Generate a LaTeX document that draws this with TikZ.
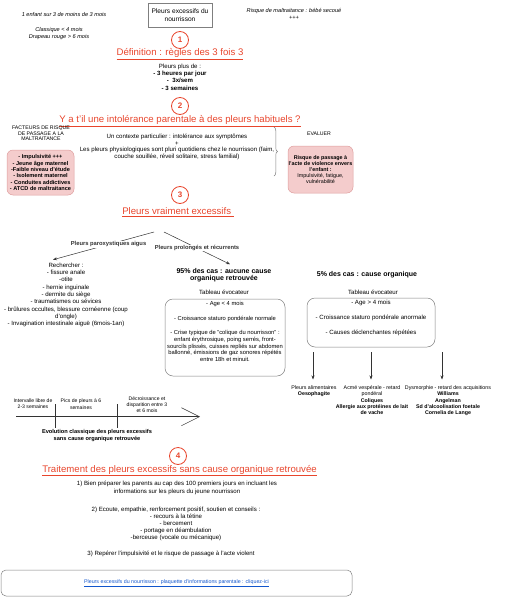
\documentclass[tikz,border=0pt]{standalone}
\usepackage{fontspec}
\setmainfont{Liberation Sans}
\usetikzlibrary{arrows.meta,calc,decorations.pathreplacing}
\definecolor{titlered}{HTML}{E8452C}
\definecolor{pinkfill}{HTML}{F4CCCC}
\definecolor{pinkline}{HTML}{DE9E9E}
\definecolor{boxgray}{HTML}{7F7F7F}
\definecolor{linkblue}{HTML}{1155CC}
\newcommand{\fsz}[2]{\fontsize{#1}{#2}\selectfont}
\begin{document}
\begin{tikzpicture}[x=1pt,y=-1pt,>={Stealth[length=4pt,width=3pt]},line width=0.5pt,
	txt/.style={inner sep=0pt,align=center,font=\fsz{6.1}{6.6}},
	note/.style={inner sep=0pt,align=center,font=\fsz{5.6}{6.7}\itshape},
	small/.style={inner sep=0pt,align=center,font=\fsz{5.2}{5.4}},
	res/.style={inner sep=0pt,align=center,anchor=north,font=\fsz{5.3}{6.3}},
	head/.style={inner sep=0pt,align=center,font=\fsz{7}{7.4}\bfseries},
	title/.style={inner sep=0pt,text=titlered,font=\fsz{9.6}{11}},
	num/.style={circle,draw=titlered,line width=0.8pt,text=titlered,minimum size=17pt,inner sep=0pt,font=\fsz{8}{9}\bfseries},
	riskbox/.style={draw=pinkline,fill=pinkfill,rounded corners=6pt,inner sep=0pt,align=center},
	tabbox/.style={draw=boxgray,rounded corners=8pt,inner sep=0pt}]
	\useasboundingbox (0,0) rectangle (504,600);
	\node[note] (babies) at (64,14) {1 enfant sur 3 de moins de 3 mois};
	\node[note] (ages) at (59,33.5) {Classique < 4 mois\\Drapeau rouge > 6 mois};
	\node[draw=boxgray,minimum width=64pt,minimum height=24pt,inner sep=0pt,align=center,font=\fsz{6.6}{8.5}] (topic) at (180,15) {Pleurs excessifs du\\nourrisson};
	\node[note] (shaken) at (294,14) {Risque de maltraitance : bébé secoué\\+++};
	\node[num] (n1) at (180,40) {1};
	\node[title] (t1) at (180,54) {\underline{Définition : règles des 3 fois 3}};
	\node[txt,font=\fsz{6.1}{7.4}] (def) at (180,77) {Pleurs plus de :\\\textbf{- 3 heures par jour}\\\textbf{-\ \ 3x/sem}\\\textbf{- 3 semaines}};
	\node[num] (n2) at (180,106) {2};
	\node[title] (t2) at (180,121) {\underline{Y a t'il une intolérance parentale à des pleurs habituels ?}};
	\node[small] (factors) at (41,133.5) {FACTEURS DE RISQUE\\DE PASSAGE A LA\\MALTRAITANCE};
	\node[riskbox,minimum width=67pt,minimum height=45pt,font=\fsz{5.6}{6.35}\bfseries] (riskmother) at (40.5,172.5) {- Impulsivité +++\\- Jeune âge maternel\\-Faible niveau d'étude\\- Isolement maternel\\- Conduites addictives\\- ATCD de maltraitance};
	\node[txt] (context) at (177,147) {Un contexte particulier : intolérance aux symptômes\\+\\Les pleurs physiologiques sont pluri quotidiens chez le nourrisson (faim,\\couche souillée, réveil solitaire, stress familial)};
	\draw[boxgray,decorate,decoration={brace,amplitude=3.5pt}] (274,127) -- (274,176);
	\node[small] (evaluate) at (319,134) {EVALUER};
	\node[riskbox,minimum width=65pt,minimum height=47pt,font=\fsz{5.4}{6.1}] (riskchild) at (320.5,169.5) {\textbf{Risque de passage à}\\\textbf{l'acte de violence envers}\\\textbf{l'enfant :}\\Impulsivité, fatigue,\\vulnérabilité};
	\node[num] (n3) at (180,195) {3};
	\node[title] (t3) at (178,212) {\underline{Pleurs vraiment excessifs\ }};
	\coordinate (forkl) at (154,232);
	\coordinate (forkr) at (164,232);
	\node[txt,font=\fsz{6.1}{7.3}] (search) at (66,295) {Rechercher :\\- fissure anale\\-otite\\- hernie inguinale\\- dermite du siège\\- traumatismes ou sévices\\- brûlures occultes, blessure cornéenne (coup\\d'ongle)\\- Invagination intestinale aiguë (6mois-1an)};
	\node[head] (organic95) at (224,275.5) {95\% des cas : aucune cause\\organique retrouvée};
	\draw[->,black!80] (forkl) -- node[pos=0.45,fill=white,inner sep=0.5pt,font=\fsz{5.8}{6}\bfseries] (parox) {Pleurs paroxystiques aigus} ($(search.north)+(-13,-3)$);
	\draw[->,black!80] (forkr) -- node[pos=0.5,fill=white,inner sep=0.5pt,font=\fsz{5.8}{6}\bfseries] (chronic) {Pleurs prolongés et récurrents} ($(organic95.north)+(6,-4)$);
	\node[txt] (tab95lbl) at (224,292) {Tableau évocateur};
	\node[tabbox,minimum width=120pt,minimum height=77pt] (tab95) at (225,337.5) {};
	\node[txt,font=\fsz{5.8}{6.65},anchor=north] (tab95txt) at (225,301) {- Age < 4 mois\\[8pt]- Croissance staturo pondérale normale\\[8pt]- Crise typique de "colique du nourrisson" :\\enfant érythrosique, poing serrés, front-\\sourcils plissés, cuisses repliés sur abdomen\\ballonné, émissions de gaz sonores répétés\\entre 18h et minuit.};
	\node[head] (organic5) at (367,275) {5\% des cas : cause organique};
	\node[txt] (tab5lbl) at (373,292) {Tableau évocateur};
	\node[tabbox,minimum width=128pt,minimum height=49pt] (tab5) at (371,322.5) {};
	\node[txt,font=\fsz{6.1}{15}] (tab5txt) at (371,318.3) {- Age > 4 mois\\- Croissance staturo pondérale anormale\\- Causes déclenchantes répétées};
	\node[res] (food) at (314,385.5) {Pleurs alimentaires\\\textbf{Oesophagite}};
	\node[res] (colic) at (372,385.5) {Acmé vespérale - retard\\pondéral\\\textbf{Coliques}\\\textbf{Allergie aux protéines de lait}\\\textbf{de vache}};
	\node[res] (dysmorph) at (448,385.5) {Dysmorphie - retard des acquisitions\\\textbf{Williams}\\\textbf{Angelman}\\\textbf{Sd d'alcoolisation foetale}\\\textbf{Cornelia de Lange}};
	\draw[->,black!80] (313,352) -- ($(food.north)+(-1,-6)$);
	\draw[->,black!80] (371,352) -- ($(colic.north)+(-1,-6)$);
	\draw[->,black!80] (442,352) -- ($(dysmorph.north)+(-6,-6)$);
	\coordinate (tstart) at (16,416.7);
	\coordinate (tend) at (200,416.7);
	\draw[black!80,-{Straight Barb[length=18pt,width=18pt]}] (tstart) -- (tend);
	\draw[black!80] (55,404) -- (55,428);
	\draw[black!80] (117,404) -- (117,428);
	\node[small,font=\fsz{5.1}{6.3}] (gap) at (33,404) {Intervalle libre de\\2-3 semaines};
	\node[small,font=\fsz{5.1}{6.3}] (peak) at (81,404) {Pics de pleurs à 6\\semaines};
	\node[small,font=\fsz{5.1}{6.3}] (decline) at (147,404.5) {Décroissance et\\disparition entre 3\\et 6 mois};
	\node[small,font=\fsz{5.65}{6.7}\bfseries] (evolution) at (97,435.7) {Evolution classique des pleurs excessifs\\sans cause organique retrouvée};
	\node[num] (n4) at (178,456) {4};
	\node[title] (t4) at (179.5,470.7) {\underline{Traitement des pleurs excessifs sans cause organique retrouvée}};
	\node[txt,font=\fsz{6.1}{8}] (prepare) at (177,488.3) {1) Bien préparer les parents au cap des 100 premiers jours en incluant les\\informations sur les pleurs du jeune nourrisson};
	\node[txt,font=\fsz{6.1}{7}] (listen) at (176,524) {2) Ecoute, empathie, renforcement positif, soutien et conseils :\\- recours à la tétine\\- bercement\\- portage en déambulation\\-berceuse (vocale ou mécanique)};
	\node[txt] (detect) at (171,554) {3) Repérer l'impulsivité et le risque de passage à l'acte violent};
	\node[draw=boxgray,rounded corners=5pt,minimum width=351pt,minimum height=26pt,inner sep=0pt,text=linkblue,font=\fsz{5.3}{6}] (leaflet) at (176.5,583) {\underline{Pleurs excessifs du nourrisson : plaquette d'informations parentale : cliquez-ici}};
\end{tikzpicture}
\end{document}
